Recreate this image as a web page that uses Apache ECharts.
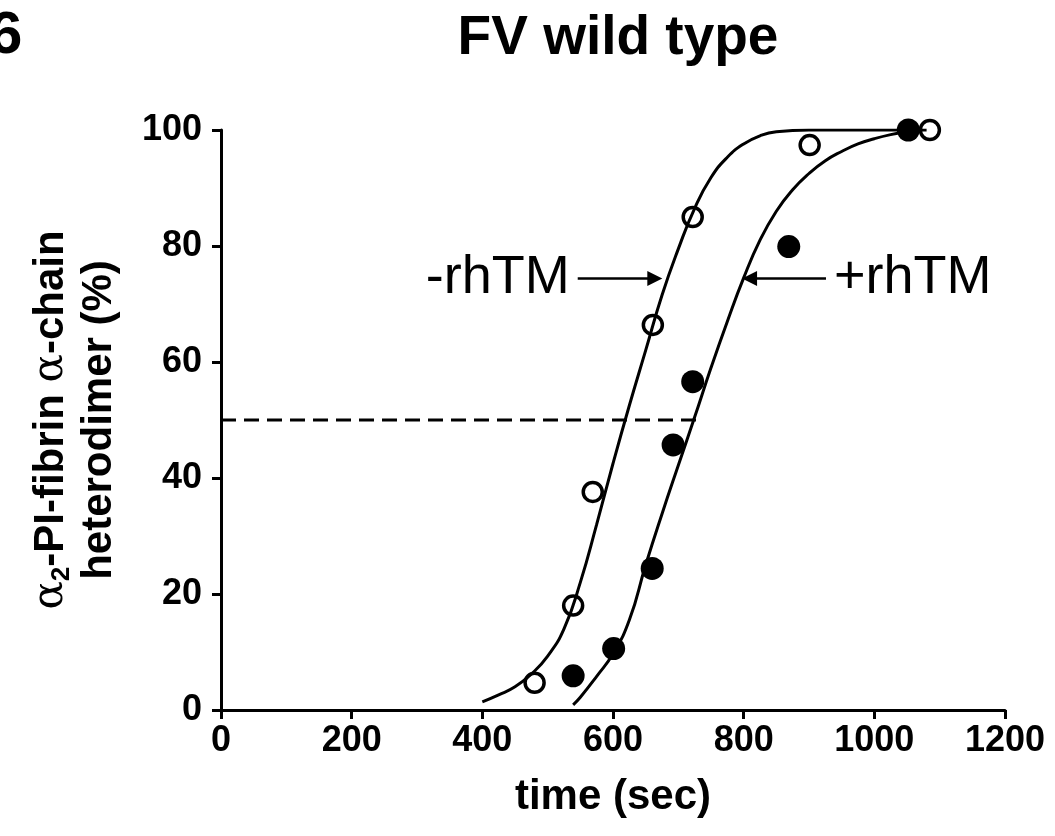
<!DOCTYPE html>
<html><head><meta charset="utf-8">
<script src="https://cdn.jsdelivr.net/npm/echarts@6/dist/echarts.min.js"></script>
<style>html,body{margin:0;padding:0;background:#fff}#c{width:1055px;height:836px}</style>
</head><body><div id="c"></div>
<script>
// ---- data ----
const titleText = 'FV wild type';
const panelLabel = '6';
const xTicks = [0, 200, 400, 600, 800, 1000, 1200];
const yTicks = [0, 20, 40, 60, 80, 100];
// open circles (-rhTM)
const minusTimes  = [480, 539, 569, 661, 722, 901, 1085];
const minusValues = [4.7, 18, 37.6, 66.4, 85, 97.4, 100];
// filled circles (+rhTM)
const plusTimes  = [539, 601, 660, 692, 722, 869, 1052];
const plusValues = [5.9, 10.6, 24.4, 45.7, 56.6, 79.9, 100];
// fitted curves
const minusCurveX = [400, 425, 450, 475, 500, 525, 550, 575, 600, 625, 650, 675, 700, 725, 750, 775, 800, 825, 850, 900, 950, 1000, 1050, 1080];
const minusCurveY = [1.4, 2.6, 4.0, 6.2, 9.3, 14, 22, 32, 42.5, 52.5, 62, 71.5, 79.5, 86.5, 91.8, 95.3, 97.6, 99, 99.7, 100, 100, 100, 100, 100];
const plusCurveX = [539, 550, 575, 600, 625, 650, 675, 700, 725, 750, 775, 800, 825, 850, 875, 900, 925, 950, 975, 1000, 1025, 1050];
const plusCurveY = [0.9, 2.2, 5.8, 9.7, 15.5, 25, 33.8, 42.2, 50.5, 59, 67, 74.5, 81, 86, 89.7, 92.5, 94.7, 96.3, 97.6, 98.5, 99.2, 99.7];
// 50 % reference line
const halfX = [0, 735];
const halfY = [50, 50];
// annotation arrows
const minusArrowX = [546, 664];
const plusArrowX = [926, 809];
const arrowY = 74.4;
const minusLabel = '-rhTM';
const plusLabel = '+rhTM';

const FONT = "'Liberation Sans', Arial, Helvetica, sans-serif";
const pairs = (xs, ys) => xs.map((x, i) => [x, ys[i]]);

const chart = echarts.init(document.getElementById('c'), null, {renderer: 'canvas'});

const axisCommon = {
  axisLine: {lineStyle: {color: '#000', width: 3}},
  axisTick: {show: true, inside: false, length: 9, lineStyle: {color: '#000', width: 3}},
  splitLine: {show: false},
  axisLabel: {color: '#000', fontSize: 36, fontWeight: 'bold', fontFamily: FONT, formatter: v => String(v)}
};

function arrowMark(xs, label) {
  return {
    silent: true,
    symbol: ['none', 'triangle'],
    symbolSize: 15,
    lineStyle: {color: '#000', width: 2.5, type: 'solid'},
    label: {show: true, position: 'start', distance: 8, formatter: label, color: '#000',
            fontSize: 54, fontWeight: 'normal', fontFamily: FONT},
    data: [[{coord: [xs[0], arrowY]}, {coord: [xs[1], arrowY]}]]
  };
}

const option = {
  animation: false,
  backgroundColor: '#fff',
  title: {
    text: titleText, left: 613, top: 6, textAlign: 'center',
    textStyle: {fontFamily: FONT, fontSize: 55, fontWeight: 'bold', color: '#000'}
  },
  graphic: [{
    type: 'text', left: -11, top: 6,
    style: {text: panelLabel, font: 'bold 60px ' + FONT, fill: '#000'}
  }],
  grid: {left: 221, right: 50, top: 130, bottom: 126, containLabel: false},
  xAxis: Object.assign({}, axisCommon, {
    type: 'value', min: xTicks[0], max: xTicks[xTicks.length - 1], interval: xTicks[1] - xTicks[0],
    name: 'time (sec)', nameLocation: 'middle', nameGap: 66, nameMoveOverlap: false,
    nameTextStyle: {color: '#000', fontSize: 42, fontWeight: 'bold', fontFamily: FONT},
    axisLabel: Object.assign({}, axisCommon.axisLabel, {margin: 13})
  }),
  yAxis: Object.assign({}, axisCommon, {
    type: 'value', min: yTicks[0], max: yTicks[yTicks.length - 1], interval: yTicks[1] - yTicks[0],
    name: '{g|α}{s|2}{t|-PI-fibrin }{g|α}{t|-chain}\n{t|heterodimer (%)}',
    nameLocation: 'middle', nameRotate: 90, nameGap: 98, nameMoveOverlap: false,
    nameTextStyle: {
      color: '#000', fontSize: 42, fontWeight: 'bold', fontFamily: FONT, lineHeight: 48,
      rich: {
        t: {fontSize: 42, fontWeight: 'bold', fontFamily: FONT, lineHeight: 48, color: '#000'},
        g: {fontSize: 42, fontWeight: 'normal', fontFamily: "'DejaVu Serif', serif", lineHeight: 48, color: '#000'},
        s: {fontSize: 26, fontWeight: 'bold', fontFamily: FONT, lineHeight: 48, verticalAlign: 'bottom', color: '#000'}
      }
    },
    axisLabel: Object.assign({}, axisCommon.axisLabel, {margin: 19})
  }),
  series: [
    {
      name: 'half', type: 'line', data: pairs(halfX, halfY), showSymbol: false, silent: true,
      lineStyle: {color: '#000', width: 3, type: [15, 8]}, z: 1
    },
    {
      name: '-rhTM fit', type: 'line', data: pairs(minusCurveX, minusCurveY), smooth: 0.5,
      showSymbol: false, silent: true,
      lineStyle: {color: '#000', width: 3}, z: 2,
      markLine: arrowMark(minusArrowX, minusLabel)
    },
    {
      name: '+rhTM fit', type: 'line', data: pairs(plusCurveX, plusCurveY), smooth: 0.5,
      showSymbol: false, silent: true,
      lineStyle: {color: '#000', width: 3}, z: 2,
      markLine: arrowMark(plusArrowX, plusLabel)
    },
    {
      name: '-rhTM', type: 'scatter', data: pairs(minusTimes, minusValues), symbol: 'circle', symbolSize: 19,
      itemStyle: {color: 'rgba(255,255,255,0)', borderColor: '#000', borderWidth: 3.5, opacity: 1}, z: 5
    },
    {
      name: '+rhTM', type: 'scatter', data: pairs(plusTimes, plusValues), symbol: 'circle', symbolSize: 23,
      itemStyle: {color: '#000', opacity: 1}, z: 5
    }
  ]
};
chart.setOption(option);
</script>
</body></html>
